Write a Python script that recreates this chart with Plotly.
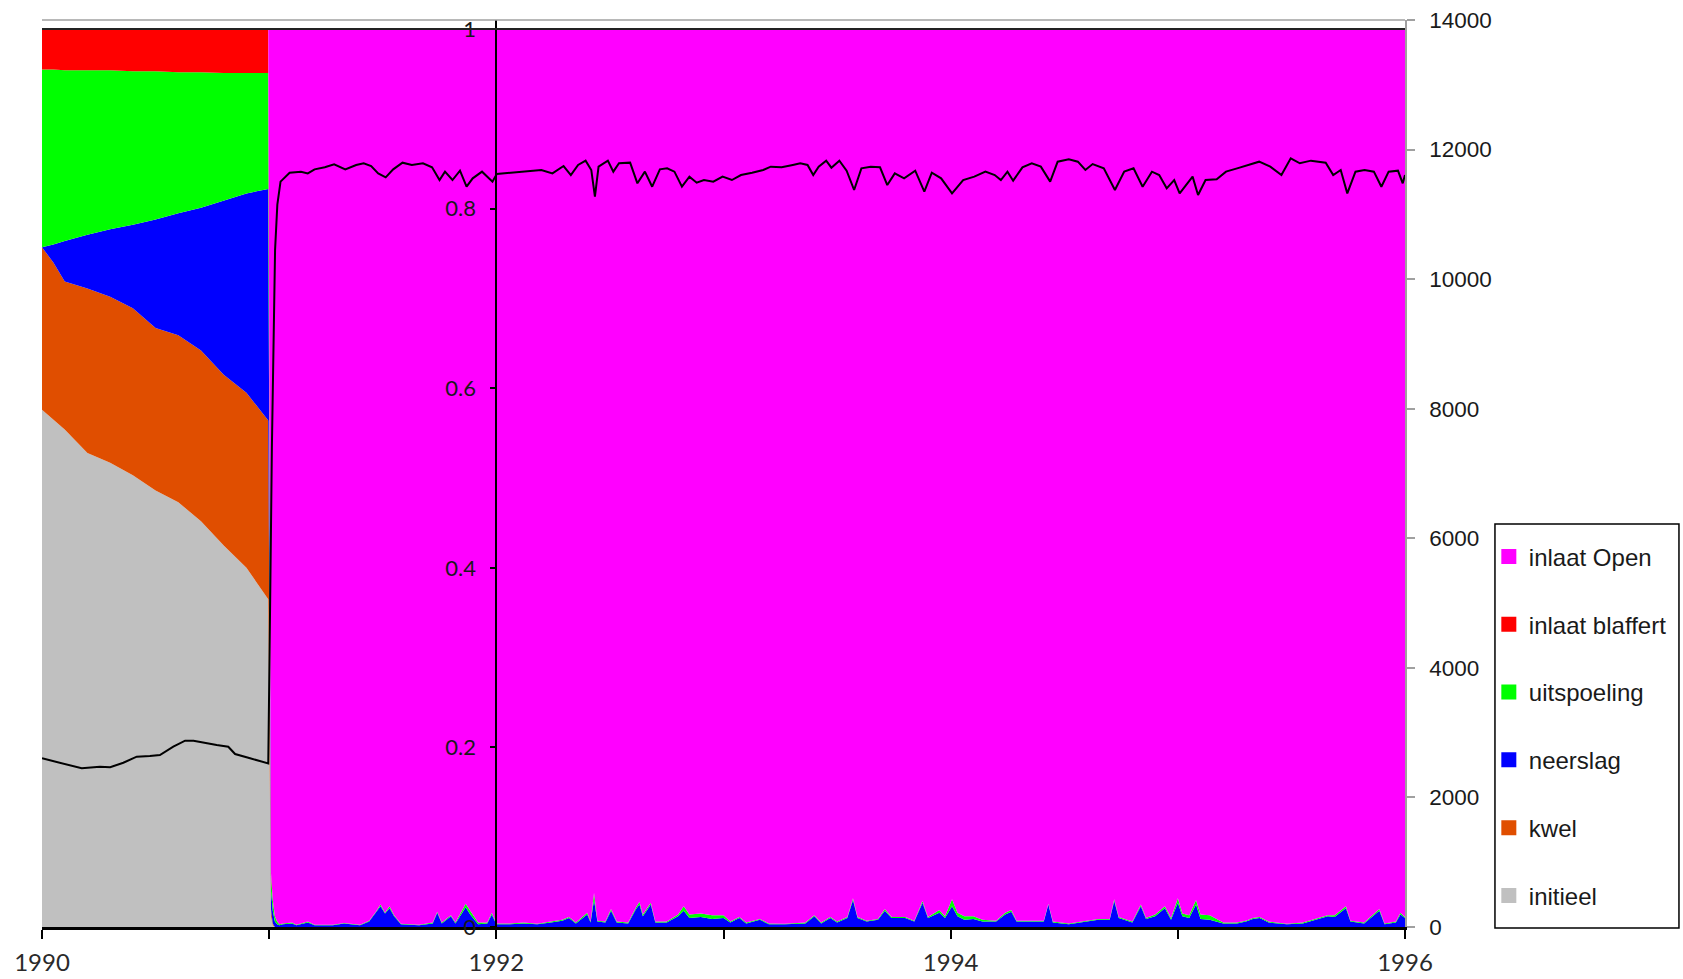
import plotly.graph_objects as go

# ---- water mix fractions (left axis) ----------------------------------
# 1990: start-up year, mix of initial water, seepage, rain, leaching, inlet
years_1990 = [1990.0, 1990.05, 1990.1, 1990.2, 1990.3, 1990.4, 1990.5,
              1990.6, 1990.7, 1990.8, 1990.9, 1990.996]
initieel_1990 = [.576, .565, .554, .528, .517, .503, .486, .473, .452, .425, .400, .365]
kwel_1990 = [.181, .175, .165, .183, .185, .186, .181, .186, .190, .190, .195, .199]
neerslag_1990 = [0, .020, .045, .060, .075, .093, .121, .136, .159, .194, .222, .258]
uitspoeling_1990 = [.198, .195, .190, .183, .177, .171, .165, .157, .151, .142, .134, .129]
blaffert_1990 = [.045, .045, .046, .046, .046, .047, .047, .048, .048, .049, .049, .049]

# switch-over to the open inlet at the start of 1991
years_switch = [1991.008, 1991.016, 1991.025, 1991.035, 1991.045]
initieel_switch = [.012, .002, 0, 0, 0]
kwel_switch = [.008, .002, 0, 0, 0]
neerslag_switch = [.020, .014, .006, .003, .002]
uitspoeling_switch = [.016, .012, .006, .003, .001]
blaffert_switch = [.004, 0, 0, 0, 0]

# 1991-1996: open inlet dominates, rain / leaching peaks remain
years_after = [
    1991.06, 1991.10, 1991.12, 1991.17, 1991.20, 1991.28, 1991.33, 1991.40, 1991.44, 1991.47,
    1991.49, 1991.51, 1991.53, 1991.55, 1991.58, 1991.66, 1991.72, 1991.74, 1991.76, 1991.80,
    1991.82, 1991.85, 1991.865, 1991.885, 1991.92, 1991.96, 1991.98, 1992.00, 1992.06, 1992.12,
    1992.18, 1992.24, 1992.29, 1992.32, 1992.35, 1992.40, 1992.415, 1992.43, 1992.445, 1992.48,
    1992.505, 1992.53, 1992.58, 1992.615, 1992.63, 1992.645, 1992.68, 1992.70, 1992.75, 1992.80,
    1992.825, 1992.85, 1992.90, 1992.95, 1993.00, 1993.03, 1993.07, 1993.10, 1993.16, 1993.20,
    1993.27, 1993.36, 1993.40, 1993.43, 1993.47, 1993.50, 1993.545, 1993.57, 1993.59, 1993.63,
    1993.68, 1993.71, 1993.74, 1993.80, 1993.84, 1993.876, 1993.90, 1993.95, 1993.975, 1994.006,
    1994.03, 1994.06, 1994.10, 1994.14, 1994.20, 1994.24, 1994.267, 1994.29, 1994.35, 1994.41,
    1994.43, 1994.45, 1994.52, 1994.59, 1994.65, 1994.70, 1994.72, 1994.74, 1994.80, 1994.837,
    1994.86, 1994.90, 1994.943, 1994.97, 1995.00, 1995.02, 1995.05, 1995.08, 1995.10, 1995.14,
    1995.17, 1995.20, 1995.26, 1995.30, 1995.33, 1995.36, 1995.40, 1995.48, 1995.55, 1995.66,
    1995.69, 1995.74, 1995.76, 1995.82, 1995.887, 1995.91, 1995.96, 1995.98, 1996.00]
neerslag_after = [
    .003, .004, .002, .005, .002, .002, .004, .002, .006, .016,
    .023, .015, .021, .012, .003, .002, .004, .016, .004, .012,
    .004, .016, .022, .014, .003, .004, .014, .003, .003, .004,
    .003, .005, .007, .010, .004, .014, .005, .030, .006, .005,
    .018, .005, .004, .020, .025, .012, .025, .005, .005, .012,
    .018, .010, .011, .009, .010, .005, .010, .004, .008, .003,
    .003, .004, .012, .004, .010, .005, .010, .030, .010, .006,
    .008, .018, .010, .010, .006, .027, .010, .016, .010, .023,
    .012, .008, .009, .006, .006, .014, .017, .006, .006, .006,
    .025, .005, .003, .006, .008, .008, .029, .010, .005, .023,
    .009, .012, .021, .008, .027, .012, .010, .025, .009, .008,
    .006, .004, .004, .006, .009, .010, .005, .003, .004, .012,
    .011, .021, .006, .004, .018, .003, .005, .014, .010]
uitspoeling_after = [
    .001, .001, .0005, .001, .0005, .0005, .0005, .0005, .001, .001,
    .002, .001, .002, .001, .0005, .0005, .001, .001, .001, .001,
    .001, .003, .004, .004, .002, .001, .002, .001, .001, .001,
    .0005, .001, .001, .001, .001, .002, .001, .008, .001, .001,
    .002, .001, .001, .002, .003, .002, .002, .001, .001, .002,
    .005, .004, .004, .004, .003, .001, .001, .001, .001, .001,
    .0005, .001, .001, .001, .001, .001, .001, .002, .001, .001,
    .001, .002, .001, .001, .001, .002, .001, .003, .002, .008,
    .004, .004, .003, .002, .001, .002, .002, .001, .001, .001,
    .001, .001, .001, .001, .001, .001, .002, .001, .001, .002,
    .001, .002, .002, .002, .005, .003, .003, .005, .005, .005,
    .003, .001, .001, .001, .001, .001, .001, .0005, .001, .001,
    .002, .002, .001, .001, .002, .001, .001, .002, .001]

# ---- level series (right axis) -----------------------------------------
level_years = [
    1990.0, 1990.073, 1990.175, 1990.255, 1990.30, 1990.358, 1990.417, 1990.475, 1990.519, 1990.578,
    1990.63, 1990.667, 1990.725, 1990.769, 1990.82, 1990.85, 1990.916, 1990.996, 1991.002, 1991.012,
    1991.026, 1991.036, 1991.05, 1991.09, 1991.14, 1991.17, 1991.20, 1991.245, 1991.286, 1991.335,
    1991.383, 1991.416, 1991.449, 1991.48, 1991.513, 1991.546, 1991.587, 1991.628, 1991.677, 1991.717,
    1991.75, 1991.774, 1991.807, 1991.84, 1991.869, 1991.896, 1991.937, 1991.983, 1992.002, 1992.068,
    1992.133, 1992.198, 1992.247, 1992.296, 1992.328, 1992.36, 1992.393, 1992.418, 1992.434, 1992.45,
    1992.491, 1992.515, 1992.54, 1992.589, 1992.621, 1992.654, 1992.686, 1992.72, 1992.752, 1992.784,
    1992.817, 1992.85, 1992.882, 1992.914, 1992.955, 1992.996, 1993.037, 1993.077, 1993.126, 1993.175,
    1993.208, 1993.256, 1993.305, 1993.338, 1993.37, 1993.395, 1993.419, 1993.452, 1993.475, 1993.51,
    1993.542, 1993.575, 1993.607, 1993.648, 1993.689, 1993.721, 1993.754, 1993.795, 1993.844, 1993.884,
    1993.917, 1993.958, 1994.006, 1994.055, 1994.104, 1994.153, 1994.194, 1994.221, 1994.25, 1994.275,
    1994.316, 1994.357, 1994.397, 1994.438, 1994.471, 1994.52, 1994.56, 1994.593, 1994.625, 1994.674,
    1994.723, 1994.764, 1994.805, 1994.845, 1994.886, 1994.918, 1994.951, 1994.984, 1995.008, 1995.041,
    1995.065, 1995.089, 1995.122, 1995.171, 1995.212, 1995.261, 1995.309, 1995.358, 1995.407, 1995.456,
    1995.497, 1995.537, 1995.586, 1995.651, 1995.684, 1995.717, 1995.746, 1995.782, 1995.822, 1995.863,
    1995.896, 1995.928, 1995.969, 1995.99, 1996.0]
level_values = [
    2604, 2536, 2449, 2475, 2465, 2536, 2629, 2639, 2655, 2783,
    2876, 2876, 2835, 2809, 2783, 2670, 2604, 2526, 4300, 7400,
    10450, 11150, 11505, 11643, 11659, 11633, 11695, 11726, 11772, 11695,
    11762, 11788, 11746, 11633, 11571, 11695, 11798, 11762, 11788, 11726,
    11530, 11659, 11530, 11674, 11427, 11556, 11659, 11505, 11623, 11643,
    11659, 11685, 11633, 11746, 11607, 11762, 11829, 11685, 11273, 11736,
    11829, 11659, 11788, 11798, 11479, 11659, 11427, 11695, 11710, 11659,
    11427, 11582, 11489, 11530, 11505, 11582, 11530, 11607, 11643, 11685,
    11736, 11726, 11762, 11788, 11762, 11607, 11736, 11829, 11720, 11829,
    11674, 11376, 11710, 11736, 11726, 11453, 11633, 11556, 11674, 11350,
    11643, 11556, 11324, 11530, 11582, 11659, 11607, 11530, 11659, 11520,
    11726, 11788, 11736, 11505, 11813, 11849, 11813, 11685, 11777, 11710,
    11376, 11659, 11710, 11427, 11659, 11607, 11402, 11530, 11324, 11479,
    11582, 11299, 11530, 11540, 11659, 11710, 11762, 11813, 11736, 11607,
    11865, 11788, 11829, 11798, 11607, 11685, 11324, 11659, 11685, 11659,
    11427, 11659, 11674, 11479, 11607]

year_ticks = [1990, 1991, 1992, 1993, 1994, 1995, 1996]
year_labels = ["1990", "", "1992", "", "1994", "", "1996"]
fraction_ticks = [0, 0.2, 0.4, 0.6, 0.8, 1]
fraction_labels = ["0", "0.2", "0.4", "0.6", "0.8", "1"]
level_ticks = [0, 2000, 4000, 6000, 8000, 10000, 12000, 14000]
level_labels = [str(v) for v in level_ticks]

# ---- assemble the stacked table ------------------------------------------
n_after = len(years_after)
mix_years = years_1990 + years_switch + years_after
mix = {
    "initieel": initieel_1990 + initieel_switch + [0] * n_after,
    "kwel": kwel_1990 + kwel_switch + [0] * n_after,
    "neerslag": neerslag_1990 + neerslag_switch + neerslag_after,
    "uitspoeling": uitspoeling_1990 + uitspoeling_switch + uitspoeling_after,
    "inlaat blaffert": blaffert_1990 + blaffert_switch + [0] * n_after,
}
# the open inlet makes up whatever is left of the mix
mix["inlaat Open"] = [
    max(0.0, round(1 - sum(mix[k][i] for k in mix), 4)) for i in range(len(mix_years))
]

colors = {
    "initieel": "#C0C0C0",
    "kwel": "#E04E00",
    "neerslag": "#0000FF",
    "uitspoeling": "#00FF00",
    "inlaat blaffert": "#FF0000",
    "inlaat Open": "#FF00FF",
}
stack_order = ["initieel", "kwel", "neerslag", "uitspoeling", "inlaat blaffert", "inlaat Open"]
legend_order = ["inlaat Open", "inlaat blaffert", "uitspoeling", "neerslag", "kwel", "initieel"]

fig = go.Figure()
for name in stack_order:
    fig.add_trace(go.Scatter(
        x=mix_years, y=mix[name], name=name, stackgroup="mix",
        mode="lines", line=dict(width=0, color=colors[name]),
        fillcolor=colors[name], showlegend=False, hoverinfo="skip",
    ))

fig.add_trace(go.Scatter(
    x=level_years, y=level_values, yaxis="y2", mode="lines",
    line=dict(color="#000000", width=2), showlegend=False, hoverinfo="skip",
))

# legend keys as square markers
for name in legend_order:
    fig.add_trace(go.Scatter(
        x=[None], y=[None], mode="markers", name=name, legendgroup=name,
        marker=dict(symbol="square", size=15, color=colors[name]),
    ))

axis_font = dict(family="Lato, sans-serif", size=24, color="#2a2a2a")
fig.update_layout(
    width=1683, height=979,
    margin=dict(l=42, r=278, t=20, b=52, autoexpand=False),
    paper_bgcolor="white", plot_bgcolor="white",
    showlegend=True,
    legend=dict(
        x=1.0615, xanchor="left", y=0.4329, yanchor="top",
        borderwidth=0, bgcolor="rgba(0,0,0,0)",
        font=dict(family="Liberation Sans, Arial, sans-serif", size=24, color="#1a1a1a"),
        tracegroupgap=33.6, traceorder="grouped",
    ),
    xaxis=dict(
        range=[1990, 1996], tickvals=year_ticks, ticktext=year_labels,
        showgrid=False, zeroline=False, showline=True, linecolor="#000000", linewidth=3,
        ticks="outside", ticklen=9, tickwidth=2, tickcolor="#000000",
        tickfont=axis_font, ticklabelstandoff=3,
    ),
    yaxis=dict(
        range=[0, 1.0101], tickvals=fraction_ticks, ticktext=fraction_labels,
        anchor="free", position=1 / 3, side="left",
        showgrid=False, zeroline=False, showline=True, linecolor="#000000", linewidth=2,
        ticks="outside", ticklen=5, tickwidth=1.5, tickcolor="#000000",
        tickfont=dict(family="Lato, sans-serif", size=22, color="#1a1a1a"),
        ticklabelstandoff=10,
    ),
    yaxis2=dict(
        range=[0, 14000], tickvals=level_ticks, ticktext=level_labels,
        overlaying="y", side="right", anchor="x",
        showgrid=False, zeroline=False, showline=True, linecolor="#A0A0A0", linewidth=1.5,
        ticks="outside", ticklen=8, tickwidth=1.5, tickcolor="#A0A0A0",
        tickfont=dict(family="Liberation Sans, Arial, sans-serif", size=22.5, color="#1a1a1a"),
        ticklabelstandoff=10,
    ),
    shapes=[
        # frame top edge
        dict(type="line", xref="paper", yref="paper", x0=0, x1=1, y0=1, y1=1,
             line=dict(color="#A0A0A0", width=1.5)),
        # 100 % level of the mix
        dict(type="line", xref="paper", yref="y", x0=0, x1=1, y0=1, y1=1,
             line=dict(color="#222222", width=2)),
        # legend frame
        dict(type="rect", xref="paper", yref="paper", x0=1.066, x1=1.201, y0=-0.0011, y1=0.4443,
             line=dict(color="#000000", width=1.5), fillcolor="rgba(0,0,0,0)", layer="above"),
    ],
)

fig.write_html("out.html")
